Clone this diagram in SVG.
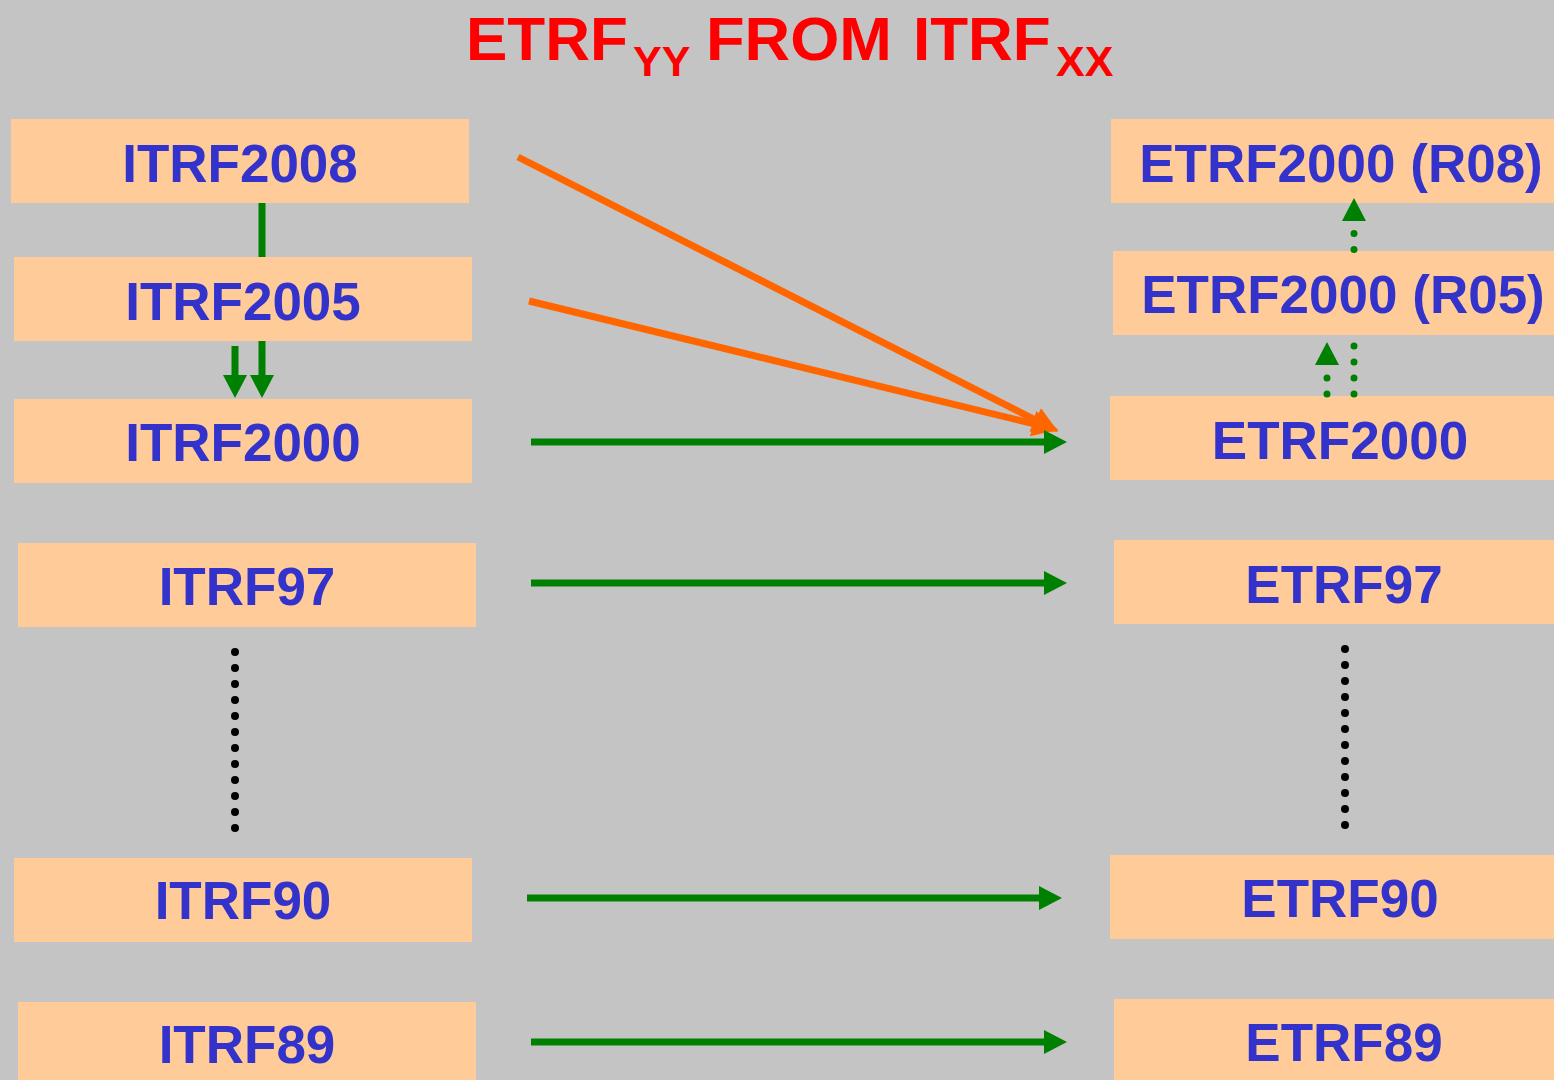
<svg xmlns="http://www.w3.org/2000/svg" width="1554" height="1080" viewBox="0 0 1554 1080">
<style>
.box{fill:#FFCC99}
.lbl{font-family:"Liberation Sans",Arial,sans-serif;font-weight:bold;font-size:53px;fill:#3333CC;text-anchor:middle}
.title{font-family:"Liberation Sans",Arial,sans-serif;font-weight:bold;fill:#FF0000}
.g{stroke:#008000;stroke-width:7;fill:none}
.o{stroke:#FF6600;stroke-width:7;fill:none}
.gdot{stroke:#008000;stroke-width:7;fill:none;stroke-linecap:round;stroke-dasharray:0 16}
.kdot{stroke:#000000;stroke-width:8;fill:none;stroke-linecap:round;stroke-dasharray:0 16}
</style>
<defs>
<marker id="ag" markerUnits="userSpaceOnUse" viewBox="0 -12 23 24" refX="1" refY="0" markerWidth="23" markerHeight="24" orient="auto">
<path d="M0,-12 L23,0 L0,12 Z" fill="#008000"/>
</marker>
<marker id="ao" markerUnits="userSpaceOnUse" viewBox="0 -13 26 26" refX="1" refY="0" markerWidth="26" markerHeight="26" orient="auto">
<path d="M0,-13 L26,0 L0,13 Z" fill="#FF6600"/>
</marker>
</defs>
<rect width="1554" height="1080" fill="#C4C4C4"/>
<text class="title" font-size="62"><tspan x="466" y="60">ETRF</tspan><tspan x="633" y="76" font-size="43">YY</tspan><tspan x="706" y="60" textLength="186" lengthAdjust="spacingAndGlyphs">FROM</tspan><tspan x="913" y="60">ITRF</tspan><tspan x="1056" y="76" font-size="43">XX</tspan></text>

<g id="ITRF2008"><rect class="box" x="11" y="119" width="458" height="84"/><text class="lbl" x="240" y="182">ITRF2008</text></g>
<g id="ITRF2005"><rect class="box" x="14" y="257" width="458" height="84"/><text class="lbl" x="243" y="320">ITRF2005</text></g>
<g id="ITRF2000"><rect class="box" x="14" y="399" width="458" height="84"/><text class="lbl" x="243" y="461">ITRF2000</text></g>
<g id="ITRF97"><rect class="box" x="18" y="543" width="458" height="84"/><text class="lbl" x="247" y="605">ITRF97</text></g>
<g id="ITRF90"><rect class="box" x="14" y="858" width="458" height="84"/><text class="lbl" x="243" y="919">ITRF90</text></g>
<g id="ITRF89"><rect class="box" x="18" y="1002" width="458" height="84"/><text class="lbl" x="247" y="1063">ITRF89</text></g>

<g id="ETRF2000R08"><rect class="box" x="1111" y="119" width="460" height="84"/><text class="lbl" x="1341" y="182">ETRF2000 (R08)</text></g>
<g id="ETRF2000R05"><rect class="box" x="1113" y="251" width="460" height="84"/><text class="lbl" x="1343" y="313">ETRF2000 (R05)</text></g>
<g id="ETRF2000"><rect class="box" x="1110" y="396" width="460" height="84"/><text class="lbl" x="1340" y="459">ETRF2000</text></g>
<g id="ETRF97"><rect class="box" x="1114" y="540" width="460" height="84"/><text class="lbl" x="1344" y="603">ETRF97</text></g>
<g id="ETRF90"><rect class="box" x="1110" y="855" width="460" height="84"/><text class="lbl" x="1340" y="917">ETRF90</text></g>
<g id="ETRF89"><rect class="box" x="1114" y="999" width="460" height="84"/><text class="lbl" x="1344" y="1061">ETRF89</text></g>

<g id="connectors">
<line class="g" x1="262" y1="203" x2="262" y2="257"/>
<line class="g" x1="235" y1="346" x2="235" y2="376" marker-end="url(#ag)"/>
<line class="g" x1="262" y1="341" x2="262" y2="376" marker-end="url(#ag)"/>
<line class="o" x1="518" y1="157" x2="1036" y2="420.3" marker-end="url(#ao)"/>
<line class="o" x1="529" y1="301" x2="1034" y2="423.9" marker-end="url(#ao)"/>
<line class="g" x1="531" y1="442" x2="1045" y2="442" marker-end="url(#ag)"/>
<line class="g" x1="531" y1="583" x2="1045" y2="583" marker-end="url(#ag)"/>
<line class="g" x1="527" y1="898" x2="1040" y2="898" marker-end="url(#ag)"/>
<line class="g" x1="531" y1="1042" x2="1045" y2="1042" marker-end="url(#ag)"/>
<path class="gdot" d="M1327 394 V364" marker-end="url(#ag)"/>
<path class="gdot" d="M1354 394 V345"/>
<path class="gdot" d="M1354 249.5 V220" marker-end="url(#ag)"/>
<path class="kdot" d="M235 652 V829"/>
<path class="kdot" d="M1345 649 V826"/>
</g>
</svg>
